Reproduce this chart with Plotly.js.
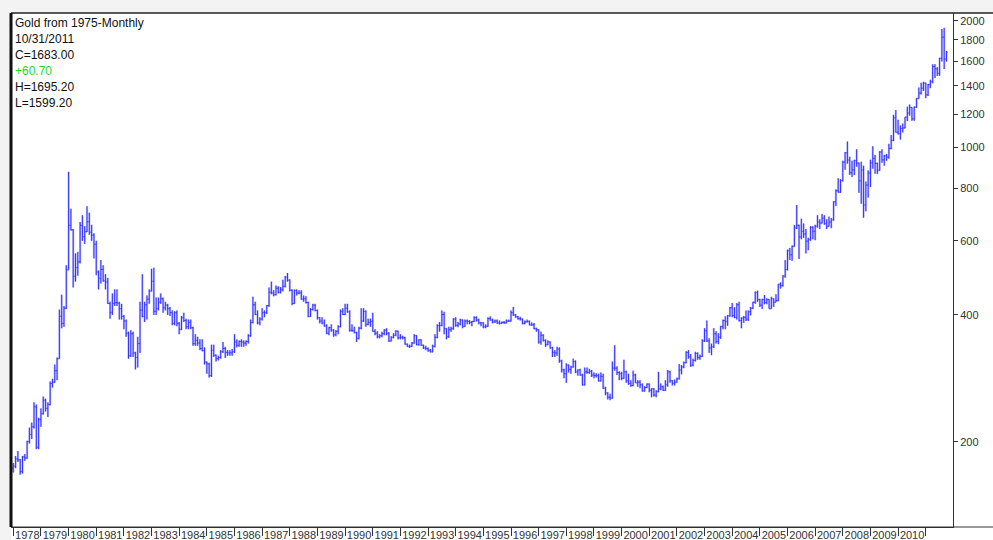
<!DOCTYPE html>
<html>
<head>
<meta charset="utf-8">
<script src="https://cdn.plot.ly/plotly-3.0.1.min.js"></script>
<style>
html, body { margin: 0; padding: 0; background: #ffffff; }
#chart { width: 993px; height: 540px; }
</style>
</head>
<body>
<div id="chart"></div>
<script>
// ---- Data: monthly gold bars, Jan 1978 .. Oct 2011 (one row per year) ----
const startYear = 1978;

const opens = [
  173,175,182,181,170,184,183,200,208,217,242,194,
  226,233,251,240,245,275,277,295,315,397,382,415,
  512,653,637,494,518,535,653,614,631,666,629,619,
  589,506,489,513,482,479,426,406,426,428,427,414,
  397,387,362,320,361,325,317,342,411,397,423,436,
  456,481,408,414,429,437,416,422,414,405,382,405,
  382,370,394,388,375,384,373,342,348,343,333,329,
  309,306,287,330,321,315,317,327,333,326,325,325,
  327,345,339,346,345,343,346,357,384,423,401,383,
  391,405,405,421,453,451,447,463,453,459,468,492,
  484,458,426,457,451,451,436,437,428,397,412,422,
  410,394,387,383,377,362,373,368,359,366,375,408,
  401,415,407,368,367,363,352,372,387,408,380,384,
  386,366,362,355,357,361,368,362,347,354,358,366,
  353,354,353,341,337,337,343,357,340,349,339,334,
  333,330,327,337,354,377,378,401,371,355,369,371,
  391,378,381,389,376,387,386,384,386,394,389,383,
  383,375,376,392,389,385,387,383,382,384,383,387,
  387,405,400,396,392,391,382,385,386,379,379,371,
  369,345,358,348,340,345,334,326,325,332,311,296,
  290,304,297,301,310,293,296,288,273,293,292,294,
  288,287,287,279,286,268,261,255,254,299,299,292,
  290,283,293,279,275,272,288,276,277,273,264,269,
  274,265,267,258,263,267,270,265,273,293,279,275,
  277,282,296,301,308,326,318,304,312,324,317,319,
  347,367,347,334,336,361,346,354,375,388,386,398,
  416,399,395,423,388,393,395,391,407,415,429,452,
  435,422,435,428,435,414,437,429,433,473,470,495,
  513,568,556,582,644,653,613,632,623,599,604,646,
  632,650,665,661,679,659,650,665,673,743,789,783,
  834,923,971,933,871,885,930,918,833,884,730,814,
  869,919,942,916,883,975,934,955,949,995,1040,1176,
  1087,1078,1109,1113,1180,1207,1244,1169,1246,1307,1346,1383,
  1421,1333,1410,1432,1556,1536,1500,1628,1828,1622.3
];

const highs = [
  178,185,190,182,185,187,201,216,222,248,245,228,
  240,256,253,248,278,282,305,317,412,447,420,525,
  875,715,640,560,565,665,690,650,725,700,655,625,
  600,510,540,525,500,490,430,450,460,460,430,425,
  400,390,365,368,365,327,355,430,500,430,445,460,
  515,518,440,440,450,440,430,425,418,410,408,410,
  385,398,405,392,390,390,375,360,355,350,350,335,
  310,308,340,340,322,320,330,345,336,330,330,332,
  360,350,348,350,348,348,360,390,442,430,410,395,
  415,410,422,465,480,458,470,468,466,485,495,503,
  486,460,460,460,458,458,445,443,430,415,425,425,
  412,395,395,390,380,375,380,370,368,378,412,415,
  425,425,410,380,375,365,375,415,415,410,392,392,
  405,370,366,360,365,370,372,364,356,362,368,367,
  360,357,355,342,340,345,360,358,350,350,340,338,
  335,332,340,360,380,385,410,407,372,375,375,393,
  395,385,392,390,390,390,389,387,397,397,392,385,
  384,380,395,397,392,390,390,388,386,387,390,390,
  410,418,402,398,396,392,388,390,388,384,383,373,
  370,365,360,350,348,346,336,330,336,335,313,298,
  307,305,303,315,312,297,298,290,300,300,298,296,
  292,291,290,292,290,270,262,260,310,339,302,294,
  293,313,295,290,280,295,290,280,280,275,271,275,
  275,268,268,265,293,275,272,280,296,295,280,281,
  284,306,304,310,328,330,323,315,327,326,322,350,
  372,388,352,342,372,366,362,377,390,397,400,418,
  427,417,427,430,395,398,410,410,418,430,455,457,
  437,437,446,438,436,442,438,448,474,478,497,540,
  572,577,585,654,730,655,677,660,640,610,650,650,
  655,690,675,695,690,675,685,680,745,795,845,840,
  930,975,1033,950,930,935,990,920,925,905,830,882,
  935,1007,960,920,980,990,960,965,1020,1070,1195,1227,
  1163,1128,1140,1180,1250,1265,1245,1251,1310,1388,1425,1432,
  1424,1415,1448,1575,1577,1552,1632,1912,1923,1695.2
];

const lows = [
  169,173,179,167,168,180,182,198,203,215,192,192,
  217,232,236,229,244,269,276,280,315,372,375,413,
  512,635,465,480,496,530,600,590,630,620,600,545,
  497,460,475,480,460,425,392,400,420,420,390,390,
  370,355,315,318,318,297,300,325,395,385,390,425,
  455,400,400,410,425,405,410,400,398,378,378,376,
  360,368,385,370,370,370,338,338,338,330,328,305,
  290,284,285,318,310,312,315,325,316,320,320,320,
  325,335,336,336,336,338,342,355,382,400,380,378,
  388,395,402,418,448,443,445,450,450,455,465,480,
  455,422,425,445,448,435,430,426,395,396,410,408,
  390,382,380,375,360,358,365,355,356,360,374,400,
  400,405,365,365,362,345,350,370,385,375,378,375,
  365,358,352,352,354,358,358,345,346,352,356,350,
  350,350,340,336,334,336,342,339,338,338,332,330,
  327,326,326,335,352,365,376,360,350,353,365,369,
  375,374,378,372,375,380,380,376,385,386,380,376,
  372,372,375,388,382,383,381,380,381,381,382,385,
  386,398,394,390,388,380,380,384,378,377,370,365,
  342,340,346,336,339,333,318,318,320,308,292,283,
  276,292,290,300,291,287,287,272,272,290,290,285,
  283,284,278,278,267,258,252,251,253,295,288,280,
  280,282,276,273,270,271,276,270,268,263,263,268,
  262,255,256,255,262,265,264,264,270,276,272,272,
  276,281,289,299,307,315,301,302,310,313,313,318,
  345,345,325,321,334,342,341,351,370,370,377,396,
  395,393,390,386,372,383,387,387,399,413,425,430,
  418,413,424,424,414,414,418,429,431,462,467,490,
  510,540,538,582,640,543,605,610,560,570,600,605,
  602,645,640,660,655,640,649,643,670,726,782,780,
  830,885,915,860,851,860,900,780,735,681,705,760,
  805,890,866,865,880,920,905,930,940,990,1035,1085,
  1073,1044,1085,1110,1155,1190,1157,1157,1242,1307,1335,1362,
  1309,1325,1383,1420,1462,1478,1480,1600,1535,1599.2
];

const closes = [
  175,182,181,170,184,183,200,208,217,242,194,226,
  233,251,240,245,275,277,295,315,397,382,415,512,
  653,637,494,518,535,653,614,631,666,629,619,589,
  506,489,513,482,479,426,406,426,428,427,414,397,
  387,362,320,361,325,317,342,411,397,423,436,456,
  481,408,414,429,437,416,422,414,405,382,405,382,
  370,394,388,375,384,373,342,348,343,333,329,309,
  306,287,330,321,315,317,327,333,326,325,325,327,
  345,339,346,345,343,346,357,384,423,401,383,391,
  405,405,421,453,451,447,463,453,459,468,492,484,
  458,426,457,451,451,436,437,428,397,412,422,410,
  394,387,383,377,362,373,368,359,366,375,408,401,
  415,407,368,367,363,352,372,387,408,380,384,386,
  366,362,355,357,361,368,362,347,354,358,366,353,
  354,353,341,337,337,343,357,340,349,339,334,333,
  330,327,337,354,377,378,401,371,355,369,371,391,
  378,381,389,376,387,386,384,386,394,389,383,383,
  375,376,392,389,385,387,383,382,384,383,387,387,
  405,400,396,392,391,382,385,386,379,379,371,369,
  345,358,348,340,345,334,326,325,332,311,296,290,
  304,297,301,310,293,296,288,273,293,292,294,288,
  287,287,279,286,268,261,255,254,299,299,292,290,
  283,293,279,275,272,288,276,277,273,264,269,274,
  265,267,258,263,267,270,265,273,293,279,275,277,
  282,296,301,308,326,318,304,312,324,317,319,347,
  367,347,334,336,361,346,354,375,388,386,398,416,
  399,395,423,388,393,395,391,407,415,429,452,435,
  422,435,428,435,414,437,429,433,473,470,495,513,
  568,556,582,644,653,613,632,623,599,604,646,632,
  650,665,661,679,659,650,665,673,743,789,783,834,
  923,971,933,871,885,930,918,833,884,730,814,869,
  919,942,916,883,975,934,955,949,995,1040,1176,1087,
  1078,1109,1113,1180,1207,1244,1169,1246,1307,1346,1383,1421,
  1333,1410,1432,1556,1536,1500,1628,1828,1620,1683
];

// axis ticks
const yearTicks = [1978,1979,1980,1981,1982,1983,1984,1985,1986,1987,1988,1989,1990,
  1991,1992,1993,1994,1995,1996,1997,1998,1999,2000,2001,2002,2003,2004,2005,2006,
  2007,2008,2009,2010,2011];
const yearLabels = ['1978','1979','1980','1981','1982','1983','1984','1985','1986','1987',
  '1988','1989','1990','1991','1992','1993','1994','1995','1996','1997','1998','1999',
  '2000','2001','2002','2003','2004','2005','2006','2007','2008','2009','2010',''];
const priceTicks = [200,400,600,800,1000,1200,1400,1600,1800,2000];

// header text
const headerLines = ['Gold from 1975-Monthly','10/31/2011','C=1683.00','+60.70','H=1695.20','L=1599.20'];
const headerColors = ['#111111','#111111','#111111','#22dd22','#111111','#111111'];

// month positions (decimal years)
const months = opens.map((_, i) => startYear + i / 12);

const halo = {
  type: 'ohlc', x: months, open: opens, high: highs, low: lows, close: closes,
  line: { width: 2.2 },
  increasing: { line: { color: 'rgba(130,130,255,0.5)', width: 2.2 } },
  decreasing: { line: { color: 'rgba(130,130,255,0.5)', width: 2.2 } },
  tickwidth: 0.45, hoverinfo: 'skip', showlegend: false
};
const core = {
  type: 'ohlc', x: months, open: opens, high: highs, low: lows, close: closes,
  line: { width: 1 },
  increasing: { line: { color: '#3333ff', width: 1 } },
  decreasing: { line: { color: '#3333ff', width: 1 } },
  tickwidth: 0.45, hoverinfo: 'skip', showlegend: false
};

const plotTop = 13, plotH = 514;
const annotations = headerLines.map((t, i) => ({
  text: t, xref: 'paper', yref: 'paper',
  x: 0.002, xanchor: 'left',
  y: 1 - ((23 + 16 * i) - plotTop) / plotH, yanchor: 'middle',
  showarrow: false,
  font: { family: '"Liberation Sans", Arial, sans-serif', size: 12, color: headerColors[i] }
}));

const layout = {
  width: 993, height: 540,
  margin: { l: 11, r: 40, t: plotTop, b: 13, pad: 0 },
  paper_bgcolor: '#f3f3f3',
  plot_bgcolor: '#ffffff',
  showlegend: false,
  font: { family: '"Liberation Sans", Arial, sans-serif', size: 11, color: '#333' },
  xaxis: {
    type: 'linear', range: [1977.917, 2011.985],
    tickmode: 'array', tickvals: yearTicks, ticktext: yearLabels,
    ticks: 'outside', ticklen: 8, tickcolor: '#333', tickwidth: 1,
    ticklabelshift: 14, ticklabelstandoff: -10,
    showgrid: false, zeroline: false, showline: true, linecolor: '#333', linewidth: 1,
    rangeslider: { visible: false }, fixedrange: true,
    tickfont: { size: 11, color: '#333' }
  },
  yaxis: {
    type: 'log', side: 'right', range: [2.0984, 3.3193],
    tickmode: 'array', tickvals: priceTicks, ticktext: priceTicks.map(String),
    ticks: 'outside', ticklen: 4, tickcolor: '#333', tickwidth: 1,
    showgrid: false, zeroline: false, showline: true, linecolor: '#333', linewidth: 1,
    fixedrange: true,
    tickfont: { size: 11, color: '#333' }
  },
  shapes: [
    { type: 'rect', xref: 'paper', yref: 'paper', x0: 0, x1: 1.05, y0: -0.05, y1: 1,
      fillcolor: '#ffffff', line: { width: 0 }, layer: 'below' },
    { type: 'line', xref: 'paper', yref: 'paper', x0: 0, x1: 1.05, y0: 1, y1: 1,
      line: { color: '#222', width: 1.5 } },
    { type: 'line', xref: 'paper', yref: 'paper', x0: 0, x1: 1.05, y0: 0, y1: 0,
      line: { color: '#333', width: 1 } },
    { type: 'line', xref: 'paper', yref: 'paper', x0: 0, x1: 0, y0: 0, y1: 1,
      line: { color: '#111', width: 3 } }
  ],
  annotations: annotations
};

Plotly.newPlot('chart', [halo, core], layout, { staticPlot: true, displayModeBar: false });
</script>
</body>
</html>
